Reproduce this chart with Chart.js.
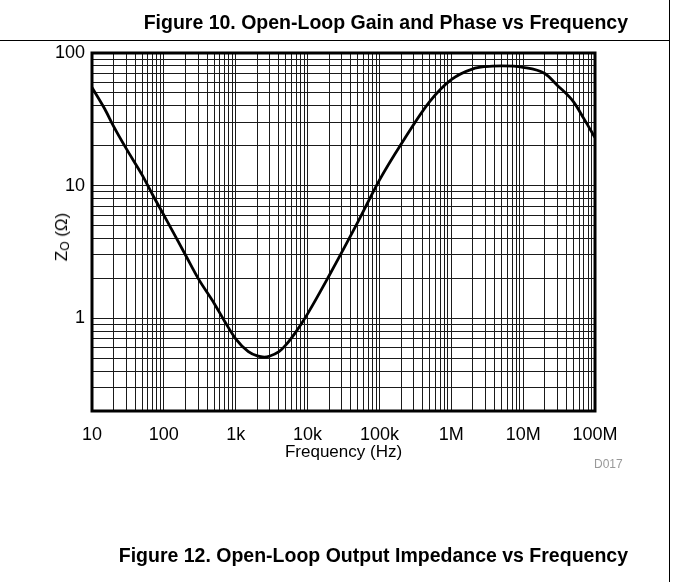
<!DOCTYPE html>
<html>
<head>
<meta charset="utf-8">
<title>Open-Loop Output Impedance vs Frequency</title>
<script src="https://cdn.jsdelivr.net/npm/chart.js@4.4.1/dist/chart.umd.min.js"></script>
<style>
  html, body { margin: 0; padding: 0; background: #fff; }
  #page { position: relative; width: 673px; height: 582px; overflow: hidden; font-family: "Liberation Sans", Arial, sans-serif; }
  #chart { position: absolute; left: 0; top: 0; }
  .caption { position: absolute; right: 45px; font-weight: bold; font-size: 19.5px; line-height: 22px; color: #000; white-space: nowrap; }
  #capTop { top: 11px; }
  #capBottom { top: 544px; }
  #ruleTop { position: absolute; left: 0; top: 40px; width: 670px; height: 1px; background: #000; }
  #ruleRight { position: absolute; left: 669px; top: 0; width: 1px; height: 582px; background: #000; }
  #yTitle { position: absolute; left: 62px; top: 237px; font-size: 17px; transform: translate(-50%, -50%) rotate(-90deg); white-space: nowrap; color: #000; }
  #yTitle sub { font-size: 12px; vertical-align: -2px; }
  #code { position: absolute; left: 594px; top: 457px; font-size: 12px; color: #999; }
</style>
</head>
<body>
<div id="page">
  <canvas id="chart" width="673" height="582"></canvas>
  <div id="ruleTop"></div>
  <div id="ruleRight"></div>
  <div class="caption" id="capTop">Figure 10. Open-Loop Gain and Phase vs Frequency</div>
  <div class="caption" id="capBottom">Figure 12. Open-Loop Output Impedance vs Frequency</div>
  <div id="yTitle">Z<sub>O</sub> (Ω)</div>
  <div id="code">D017</div>
</div>
<script>
// ===== data =====
const freqHz = [10, 15, 20, 30, 50, 70, 100, 200, 300, 500, 700, 1e3, 1.5e3, 2e3, 2.5e3, 3e3, 4e3, 5e3, 7e3,
  1e4, 2e4, 5e4, 1e5, 2e5, 5e5, 1e6, 2e6, 3e6, 5e6, 1e7, 2e7, 3e7, 5e7, 7e7, 1e8];
const zoOhm = [55, 38, 28, 19, 12, 8.5, 6, 3, 2, 1.3, 0.95, 0.7, 0.56, 0.52, 0.51, 0.52, 0.56, 0.63, 0.8,
  1.08, 2.1, 5.3, 11, 20.5, 43, 63, 76, 79, 80, 78, 70, 57, 43, 32, 23];

// axis decades and labels
const xDecades = [10, 100, 1e3, 1e4, 1e5, 1e6, 1e7, 1e8];
const xDecadeLabels = ["10", "100", "1k", "10k", "100k", "1M", "10M", "100M"];
const yDecades = [0.1, 1, 10, 100];
const yDecadeLabels = ["", "1", "10", "100"];
const yMin = 0.2, yMax = 100;

function logTicks(decades, lo, hi) {
  const out = [];
  decades.forEach(d => {
    for (let m = 1; m <= 9; m++) {
      const v = +(d * m).toPrecision(6);
      if (v >= lo && v <= hi && !out.includes(v)) out.push(v);
    }
  });
  return out;
}

const xTickVals = logTicks(xDecades, 10, 1e8);
const yTickVals = logTicks(yDecades, yMin, yMax);

function labelFor(v, decades, labels) {
  const i = decades.findIndex(d => Math.abs(d - v) / d < 1e-6);
  return i >= 0 ? labels[i] : "";
}

const tickFont = { family: "'Liberation Sans', Arial, sans-serif", size: 18 };

// thick frame around the plot area
const frame = {
  id: "frame",
  afterDraw(chart) {
    const { ctx, chartArea: a } = chart;
    ctx.save();
    ctx.strokeStyle = "#000";
    ctx.lineWidth = 3;
    ctx.strokeRect(a.left, a.top, a.right - a.left, a.bottom - a.top);
    ctx.restore();
  }
};

new Chart(document.getElementById("chart"), {
  type: "line",
  data: {
    datasets: [{
      data: freqHz.map((f, i) => ({ x: f, y: zoOhm[i] })),
      borderColor: "#000",
      borderWidth: 2.8,
      pointRadius: 0,
      cubicInterpolationMode: "monotone",
      fill: false
    }]
  },
  options: {
    responsive: false,
    animation: false,
    devicePixelRatio: 1,
    layout: { padding: { left: 0, top: 53, right: 78, bottom: 119 } },
    plugins: { legend: { display: false }, tooltip: { enabled: false } },
    scales: {
      x: {
        type: "logarithmic",
        min: 10,
        max: 1e8,
        afterBuildTicks: s => { s.ticks = xTickVals.map(v => ({ value: v })); },
        afterFit: s => { s.height = 52; },
        ticks: {
          autoSkip: false,
          maxRotation: 0,
          padding: 13,
          color: "#000",
          font: tickFont,
          callback: v => labelFor(v, xDecades, xDecadeLabels)
        },
        grid: { color: "#1a1a1a", lineWidth: 1, drawTicks: false },
        border: { display: false },
        title: {
          display: true,
          text: "Frequency (Hz)",
          color: "#000",
          font: { family: "'Liberation Sans', Arial, sans-serif", size: 17 },
          padding: 0
        }
      },
      y: {
        type: "logarithmic",
        min: yMin,
        max: yMax,
        afterBuildTicks: s => { s.ticks = yTickVals.map(v => ({ value: v })); },
        afterFit: s => { s.width = 92; },
        ticks: {
          autoSkip: false,
          padding: 7,
          color: "#000",
          font: tickFont,
          callback: v => labelFor(v, yDecades, yDecadeLabels)
        },
        grid: { color: "#1a1a1a", lineWidth: 1, drawTicks: false },
        border: { display: false }
      }
    }
  },
  plugins: [frame]
});
</script>
</body>
</html>
